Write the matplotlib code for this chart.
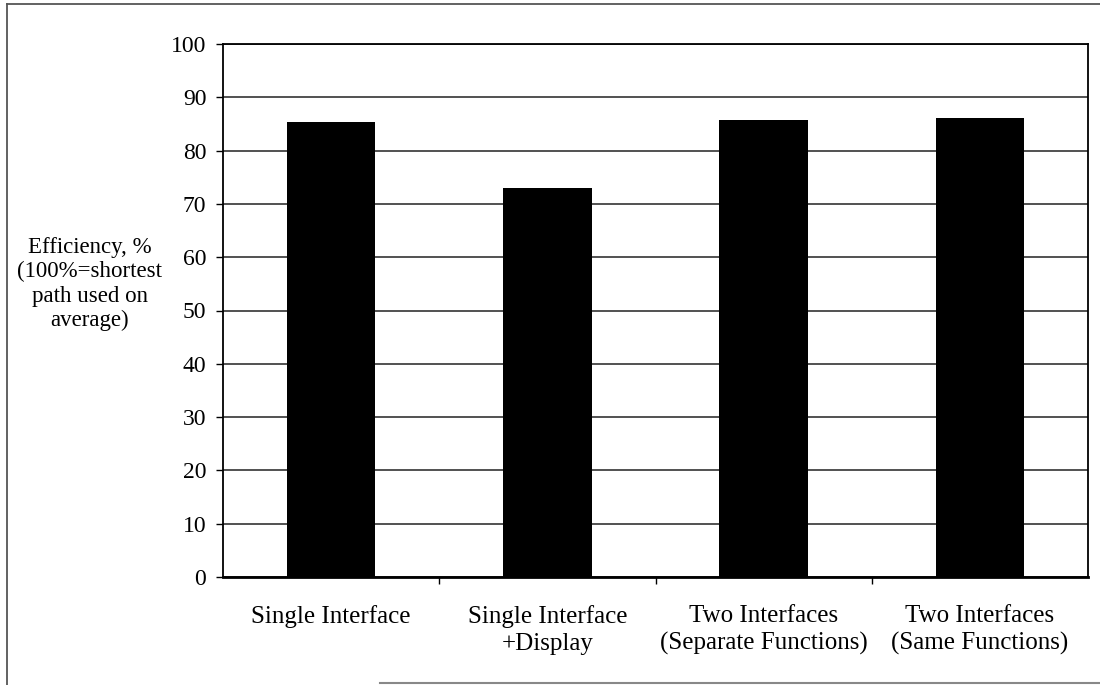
import matplotlib
matplotlib.use("Agg")
import matplotlib.pyplot as plt
from matplotlib.lines import Line2D

categories = ["Single Interface", "Single Interface\n+Display",
              "Two Interfaces\n(Separate Functions)", "Two Interfaces\n(Same Functions)"]
values = [85.3, 73.0, 85.7, 86.2]
yticks = [0, 10, 20, 30, 40, 50, 60, 70, 80, 90, 100]

plt.rcParams['font.family'] = ['Liberation Serif', 'DejaVu Serif']

W, H = 1100, 685
fig = plt.figure(figsize=(11, 6.85), dpi=100)
ax = fig.add_axes([223/W, 1 - 577/H, (1088-223)/W, (577-44)/H])

x = list(range(len(categories)))
ax.bar(x, values, width=0.41, color='black', zorder=3)
ax.set_xlim(-0.5, len(categories) - 0.5)
ax.set_ylim(0, 100)
ax.set_yticks(yticks)
ax.set_yticklabels([str(v) for v in yticks], fontsize=17)
ax.yaxis.grid(True, color='#222222', linewidth=1.1, zorder=0)
ax.set_axisbelow(True)

ax.set_xticks([i + 0.5 for i in range(len(categories) - 1)])
ax.set_xticklabels([])
ax.set_xticks(x, minor=True)
ax.set_xticklabels(categories, minor=True, fontsize=18, linespacing=1.3)
ax.tick_params(axis='x', which='minor', length=0, pad=20)
ax.tick_params(axis='x', which='major', direction='out', length=5, width=1)
ax.tick_params(axis='y', direction='out', length=5, width=1, pad=7)

for s in ['left', 'bottom', 'top', 'right']:
    ax.spines[s].set_linewidth(1.3)
    ax.spines[s].set_color('black')
ax.spines['bottom'].set_linewidth(2)

fig.text(90/W, 1 - 284/H, "Efficiency, %\n(100%=shortest\npath used on\naverage)",
         ha='center', va='center', fontsize=16.5, linespacing=1.2)

# outer frame (left, top, partial bottom)
fig.add_artist(Line2D([7/W, 7/W], [0, 1 - 4/H], transform=fig.transFigure,
                      color='#555555', linewidth=1.3))
fig.add_artist(Line2D([7/W, 1], [1 - 4/H, 1 - 4/H], transform=fig.transFigure,
                      color='#555555', linewidth=1.3))
fig.add_artist(Line2D([380/W, 1], [1 - 683/H, 1 - 683/H], transform=fig.transFigure,
                      color='#888888', linewidth=1.5))

fig.savefig("out.png", dpi=100)
